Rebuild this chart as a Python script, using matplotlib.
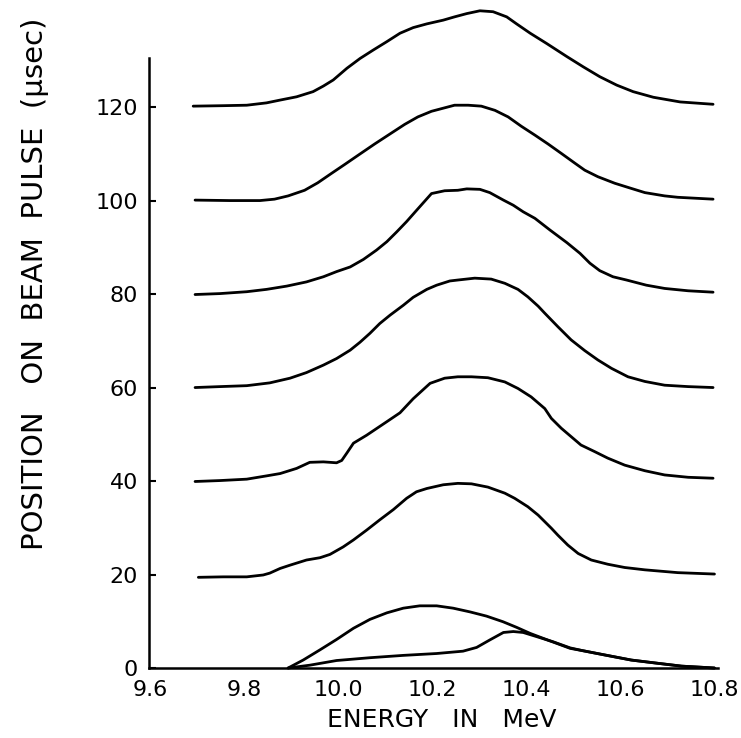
import matplotlib.pyplot as plt

# energy (MeV) / position on beam pulse (usec)
e120 = [9.692, 9.756, 9.806, 9.848, 9.877, 9.912, 9.947, 9.969, 9.990, 10.019,
        10.047, 10.075, 10.104, 10.132, 10.160, 10.189, 10.224, 10.248, 10.274, 10.302,
        10.330, 10.359, 10.380, 10.409, 10.444, 10.487, 10.522, 10.557, 10.593, 10.628,
        10.671, 10.728, 10.798]
p120 = [120.2, 120.3, 120.4, 120.9, 121.5, 122.2, 123.3, 124.5, 125.8, 128.3,
        130.4, 132.2, 134.0, 135.8, 137.0, 137.8, 138.6, 139.3, 140.0, 140.6,
        140.4, 139.3, 137.8, 135.8, 133.6, 130.8, 128.6, 126.5, 124.7, 123.3,
        122.1, 121.1, 120.6]

e100 = [9.696, 9.770, 9.834, 9.865, 9.894, 9.929, 9.957, 9.986, 10.014, 10.043,
        10.078, 10.113, 10.142, 10.170, 10.199, 10.248, 10.277, 10.305, 10.334, 10.362,
        10.390, 10.419, 10.447, 10.475, 10.504, 10.525, 10.553, 10.589, 10.624, 10.653,
        10.695, 10.723, 10.798]
p100 = [100.1, 100.0, 100.0, 100.3, 101.0, 102.2, 103.8, 105.8, 107.7, 109.7,
        112.1, 114.4, 116.3, 117.9, 119.1, 120.4, 120.4, 120.2, 119.3, 117.9,
        115.9, 114.0, 112.1, 110.1, 108.0, 106.5, 105.1, 103.7, 102.6, 101.7,
        101.0, 100.7, 100.3]

e80 = [9.696, 9.749, 9.806, 9.848, 9.891, 9.933, 9.969, 9.997, 10.026, 10.054,
       10.082, 10.104, 10.125, 10.146, 10.168, 10.199, 10.227, 10.255, 10.274, 10.302,
       10.323, 10.352, 10.373, 10.394, 10.419, 10.451, 10.487, 10.515, 10.536, 10.557,
       10.585, 10.614, 10.656, 10.695, 10.745, 10.798]
p80 = [79.9, 80.1, 80.5, 81.0, 81.7, 82.6, 83.7, 84.8, 85.8, 87.4,
       89.4, 91.2, 93.3, 95.5, 98.0, 101.5, 102.1, 102.2, 102.5, 102.4,
       101.7, 100.1, 99.0, 97.6, 96.2, 93.7, 91.0, 88.7, 86.6, 85.0,
       83.7, 83.0, 81.9, 81.2, 80.7, 80.4]

e60 = [9.696, 9.749, 9.806, 9.855, 9.898, 9.933, 9.969, 9.997, 10.026, 10.047,
       10.068, 10.089, 10.111, 10.139, 10.160, 10.189, 10.210, 10.238, 10.255, 10.291,
       10.326, 10.355, 10.383, 10.404, 10.426, 10.440, 10.468, 10.496, 10.525, 10.553,
       10.582, 10.617, 10.653, 10.695, 10.745, 10.798]
p60 = [60.0, 60.2, 60.4, 61.0, 62.0, 63.2, 64.8, 66.2, 68.0, 69.7,
       71.6, 73.7, 75.5, 77.6, 79.3, 81.0, 81.9, 82.8, 83.0, 83.4,
       83.2, 82.3, 81.0, 79.4, 77.4, 75.9, 73.0, 70.2, 67.9, 65.9,
       64.1, 62.3, 61.3, 60.5, 60.2, 60.0]

e40 = [9.696, 9.749, 9.806, 9.848, 9.877, 9.912, 9.940, 9.969, 9.997, 10.008,
       10.019, 10.033, 10.061, 10.104, 10.132, 10.160, 10.196, 10.227, 10.255, 10.284,
       10.319, 10.355, 10.383, 10.411, 10.440, 10.454, 10.475, 10.496, 10.517, 10.546,
       10.574, 10.610, 10.653, 10.695, 10.745, 10.798]
p40 = [39.9, 40.1, 40.4, 41.1, 41.6, 42.7, 44.0, 44.1, 43.9, 44.4,
       46.0, 48.1, 49.8, 52.7, 54.6, 57.6, 60.9, 62.0, 62.3, 62.3,
       62.1, 61.2, 59.8, 58.0, 55.5, 53.4, 51.3, 49.5, 47.7, 46.3,
       44.9, 43.4, 42.2, 41.3, 40.8, 40.6]

e20 = [9.703, 9.756, 9.806, 9.841, 9.855, 9.877, 9.898, 9.933, 9.962, 9.983,
       10.011, 10.033, 10.061, 10.089, 10.118, 10.146, 10.167, 10.189, 10.224, 10.255,
       10.284, 10.319, 10.355, 10.376, 10.404, 10.426, 10.454, 10.468, 10.489, 10.511,
       10.539, 10.574, 10.610, 10.653, 10.723, 10.801]
p20 = [19.4, 19.5, 19.5, 19.9, 20.3, 21.3, 22.0, 23.1, 23.6, 24.3,
       25.9, 27.4, 29.5, 31.7, 33.9, 36.3, 37.7, 38.4, 39.2, 39.5,
       39.4, 38.7, 37.4, 36.3, 34.5, 32.7, 29.9, 28.4, 26.3, 24.5,
       23.1, 22.2, 21.5, 21.0, 20.4, 20.1]

e0a = [9.894, 9.926, 9.962, 9.997, 10.033, 10.068, 10.104, 10.139, 10.174, 10.210,
       10.245, 10.281, 10.316, 10.351, 10.380, 10.409, 10.451, 10.494, 10.521, 10.567,
       10.624, 10.681, 10.731, 10.801]
p0a = [0.0, 1.7, 3.9, 6.1, 8.5, 10.4, 11.8, 12.8, 13.3, 13.3,
       12.8, 12.0, 11.1, 9.9, 8.7, 7.4, 5.8, 4.2, 3.7, 2.8,
       1.7, 1.0, 0.4, 0.0]

e0b = [9.894, 9.940, 9.997, 10.068, 10.139, 10.210, 10.266, 10.295, 10.323, 10.352,
       10.373, 10.394, 10.423, 10.458, 10.494, 10.521, 10.567, 10.624, 10.681, 10.731,
       10.801]
p0b = [0.0, 0.6, 1.6, 2.2, 2.7, 3.1, 3.6, 4.4, 6.0, 7.6,
       7.8, 7.6, 6.7, 5.6, 4.3, 3.7, 2.8, 1.7, 1.0, 0.4,
       0.0]

x_ticks = [9.6, 9.8, 10.0, 10.2, 10.4, 10.6, 10.8]
y_ticks = [0, 20, 40, 60, 80, 100, 120]

curves = [(e120, p120), (e100, p100), (e80, p80), (e60, p60),
          (e40, p40), (e20, p20), (e0a, p0a), (e0b, p0b)]

fig = plt.figure(figsize=(7.41, 7.38), dpi=100)
ax = fig.add_axes([149 / 741, 70 / 738, 569 / 741, 610 / 738])

for e, p in curves:
    ax.plot(e, p, color='black', lw=2.0, clip_on=False,
            solid_capstyle='round', solid_joinstyle='round')

ax.set_xlim(9.598, 10.8085)
ax.set_ylim(0, 130.5)
ax.set_xticks(x_ticks)
ax.set_xticklabels(['%.1f' % v for v in x_ticks])
ax.set_yticks(y_ticks)

for s in ['top', 'right']:
    ax.spines[s].set_visible(False)
for s in ['left', 'bottom']:
    ax.spines[s].set_linewidth(1.8)

ax.tick_params(axis='x', length=0, pad=9, labelsize=16)
ax.tick_params(axis='y', direction='in', length=5, width=1.5, pad=8, labelsize=16)

fig.text(442 / 741, 1 - 720 / 738, 'ENERGY   IN   MeV', ha='center', va='center', fontsize=18)
fig.text(35 / 741, 1 - 550 / 738, 'POSITION   ON  BEAM  PULSE  (\u03bcsec)',
         rotation=90, ha='center', va='bottom', fontsize=21)

fig.savefig('out.png', dpi=100)
